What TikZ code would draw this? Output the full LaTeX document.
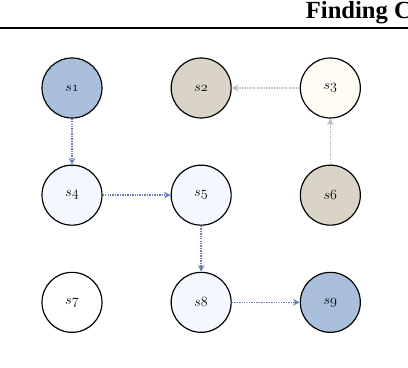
\documentclass[tikz,border=0pt]{standalone}
\usepackage{fontspec}
\newfontfamily\headfont{Liberation Serif}
\usepackage{tikz}
\usetikzlibrary{arrows.meta,positioning}
\usepackage{xcolor}
\definecolor{goal}{HTML}{A9BFDB}
\definecolor{wall}{HTML}{D9D4C5}
\definecolor{cream}{HTML}{FEFCF4}
\definecolor{pale}{HTML}{F3F8FE}
\definecolor{trail}{HTML}{6B7FBA}
\definecolor{ghost}{HTML}{BDBCB8}
\newcommand{\slab}[1]{$\mathnormal{s#1}$}

\begin{document}
\begin{tikzpicture}[
  node distance=1.38cm and 2.04cm,
  cell/.style={circle, draw=black, line width=1pt, minimum size=1.8cm, inner sep=0pt, font=\large},
  fwd/.style={-{Stealth[length=2mm,width=2mm]}, line width=1.3pt, dash pattern=on 1.2pt off 0.9pt, draw=trail},
  rev/.style={fwd, draw=ghost}
]
\useasboundingbox (-2.16,-8.4) rectangle (10.08,2.64);

% page header
\node[anchor=base west, inner sep=0pt, font=\headfont\bfseries\fontsize{21}{25}\selectfont] (head) at (7.01,2.085) {Finding C};
\coordinate (rl) at (-2.16,1.8);
\coordinate (rr) at (10.08,1.8);
\draw[line width=2pt] (rl) -- (rr);

% grid of states
\node[cell, fill=goal] (s1) at (0,0) {\slab{1}};
\node[cell, fill=wall, right=of s1] (s2) {\slab{2}};
\node[cell, fill=cream, right=of s2] (s3) {\slab{3}};
\node[cell, fill=pale, below=of s1] (s4) {\slab{4}};
\node[cell, fill=pale, right=of s4] (s5) {\slab{5}};
\node[cell, fill=wall, right=of s5] (s6) {\slab{6}};
\node[cell, fill=white, below=of s4] (s7) {\slab{7}};
\node[cell, fill=pale, right=of s7] (s8) {\slab{8}};
\node[cell, fill=goal, right=of s8] (s9) {\slab{9}};

\draw[fwd] (s1) -- (s4);
\draw[fwd] (s4) -- (s5);
\draw[fwd] (s5) -- (s8);
\draw[fwd] (s8) -- (s9);
\draw[rev] (s6) -- (s3);
\draw[rev] (s3) -- (s2);
\end{tikzpicture}
\end{document}
